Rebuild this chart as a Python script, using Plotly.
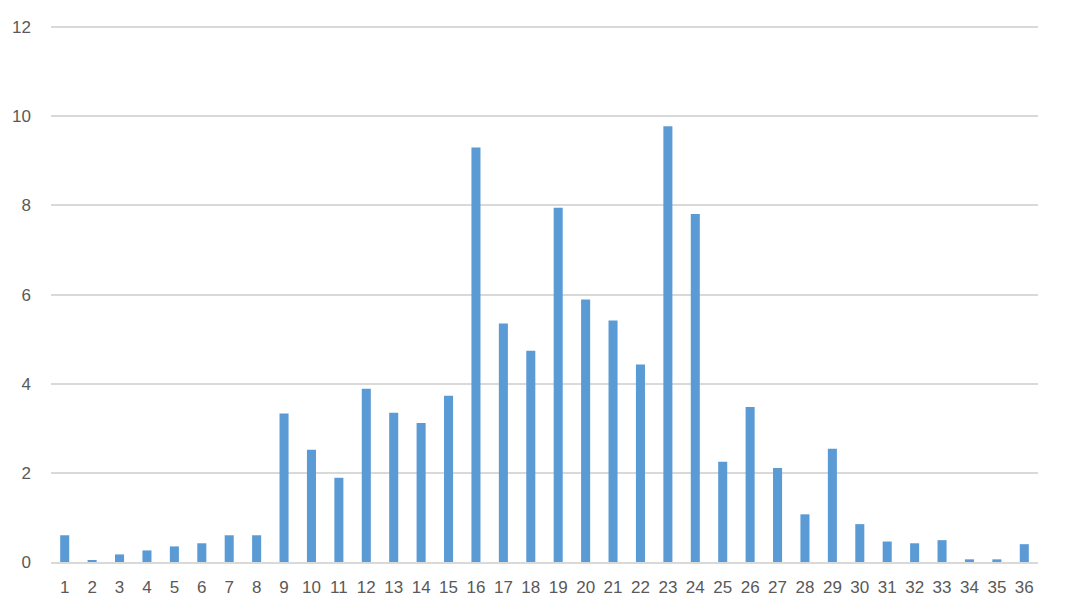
import plotly.graph_objects as go

categories = [str(i) for i in range(1, 37)]
values = [0.60, 0.04, 0.17, 0.26, 0.35, 0.42, 0.60, 0.60, 3.33, 2.52,
          1.89, 3.89, 3.35, 3.12, 3.73, 9.30, 5.35, 4.74, 7.95, 5.89,
          5.42, 4.43, 9.78, 7.81, 2.25, 3.48, 2.11, 1.07, 2.54, 0.85,
          0.46, 0.42, 0.49, 0.06, 0.06, 0.40]
y_ticks = [0, 2, 4, 6, 8, 10, 12]

fig = go.Figure(go.Bar(x=categories, y=values, marker=dict(color="#5B9BD5", line=dict(width=0))))
fig.update_layout(
    width=1065, height=612,
    margin=dict(l=51, r=27, t=25, b=50, autoexpand=False),
    plot_bgcolor="white", paper_bgcolor="white",
    bargap=0.67, showlegend=False,
    font=dict(family="Liberation Sans, Arial, sans-serif", size=17, color="#595959"),
)
fig.update_xaxes(type="category", showgrid=False, showline=True, linecolor="#D9D9D9", linewidth=2,
                 ticks="", automargin=False, ticklabelstandoff=9,
                 tickfont=dict(size=17, color="#595959"))
fig.update_yaxes(range=[0, 12.05], tickvals=y_ticks, showgrid=True, gridcolor="#D9D9D9", gridwidth=1.6,
                 zeroline=False, showline=False, ticks="", ticklabelstandoff=19, automargin=False,
                 tickfont=dict(size=17, color="#595959"))
fig.write_html("out.html", config={"displayModeBar": False},
               post_script="document.body.style.margin='0';document.body.style.overflow='hidden';")
